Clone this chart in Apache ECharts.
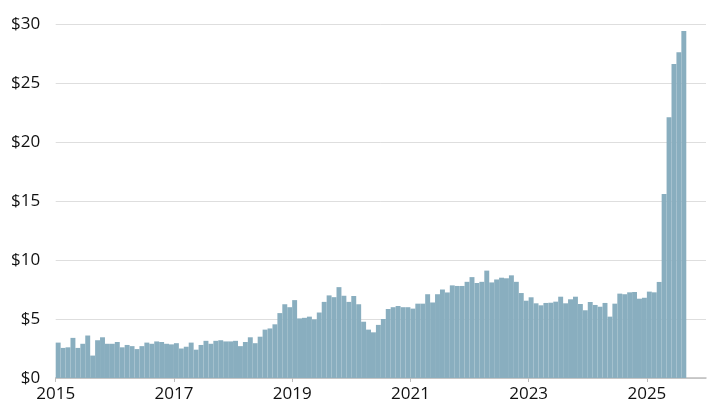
<!DOCTYPE html>
<html>
<head>
<meta charset="utf-8">
<script src="https://cdn.jsdelivr.net/npm/echarts@6/dist/echarts.min.js"></script>
<style>
  html, body { margin: 0; padding: 0; background: #fff; }
  #chart { width: 718px; height: 417px; }
</style>
</head>
<body>
<div id="chart"></div>
<script>
// monthly values, Jan 2015 .. Aug 2025
const values2015 = [3.0, 2.55, 2.6, 3.4, 2.55, 2.9, 3.6, 1.9, 3.2, 3.45, 2.9, 2.9];
const values2016 = [3.05, 2.6, 2.8, 2.7, 2.45, 2.7, 3.0, 2.9, 3.1, 3.05, 2.9, 2.85];
const values2017 = [2.95, 2.5, 2.65, 3.0, 2.4, 2.8, 3.15, 2.9, 3.15, 3.2, 3.1, 3.1];
const values2018 = [3.15, 2.7, 3.05, 3.45, 2.95, 3.5, 4.1, 4.2, 4.55, 5.5, 6.25, 6.0];
const values2019 = [6.6, 5.05, 5.1, 5.2, 4.97, 5.55, 6.45, 7.0, 6.85, 7.7, 6.97, 6.45];
const values2020 = [6.95, 6.25, 4.77, 4.1, 3.87, 4.5, 5.0, 5.85, 6.0, 6.1, 6.0, 6.0];
const values2021 = [5.88, 6.3, 6.3, 7.1, 6.4, 7.1, 7.5, 7.25, 7.85, 7.8, 7.8, 8.15];
const values2022 = [8.55, 8.05, 8.15, 9.1, 8.1, 8.35, 8.5, 8.45, 8.7, 8.15, 7.2, 6.55];
const values2023 = [6.84, 6.33, 6.16, 6.36, 6.38, 6.47, 6.89, 6.33, 6.67, 6.89, 6.27, 5.74];
const values2024 = [6.44, 6.19, 6.04, 6.36, 5.2, 6.3, 7.15, 7.1, 7.26, 7.29, 6.72, 6.8];
const values2025 = [7.32, 7.26, 8.14, 15.6, 22.1, 26.6, 27.6, 29.4];

const totalMonths = 132; // axis runs to end of 2025
const yearLabels = ['2015', '2017', '2019', '2021', '2023', '2025'];
const labelMonths = [0, 24, 48, 72, 96, 120];

const allValues = [].concat(values2015, values2016, values2017, values2018, values2019,
  values2020, values2021, values2022, values2023, values2024, values2025);

// each month sits in the middle of its slot on the month axis
const barData = allValues.map((v, i) => [i + 0.5, v]);

const chart = echarts.init(document.getElementById('chart'), null, { renderer: 'canvas' });
const font = '"Open Sans", sans-serif';

chart.setOption({
  animation: false,
  grid: { left: 55.7, right: 12, top: 24, bottom: 39 },
  xAxis: {
    type: 'value',
    min: 0,
    max: totalMonths,
    interval: 24,
    axisLine: { show: true, lineStyle: { color: '#bdbdbd', width: 1.5 } },
    axisTick: { show: true, length: 4, customValues: labelMonths, lineStyle: { color: '#bdbdbd' } },
    splitLine: { show: false },
    axisLabel: {
      color: '#111',
      fontFamily: font,
      fontSize: 17,
      margin: 8,
      customValues: labelMonths,
      formatter: v => yearLabels[v / 24] || ''
    }
  },
  yAxis: {
    type: 'value',
    min: 0,
    max: 30,
    interval: 5,
    axisLine: { show: false },
    axisTick: { show: false },
    splitLine: { lineStyle: { color: '#dedede', width: 1 } },
    axisLabel: {
      color: '#111',
      fontFamily: font,
      fontSize: 17,
      margin: 15.5,
      formatter: v => '$' + v
    }
  },
  series: [{
    type: 'bar',
    data: barData,
    barWidth: 4.93,
    itemStyle: { color: '#89aebf' }
  }]
});
</script>
</body>
</html>
